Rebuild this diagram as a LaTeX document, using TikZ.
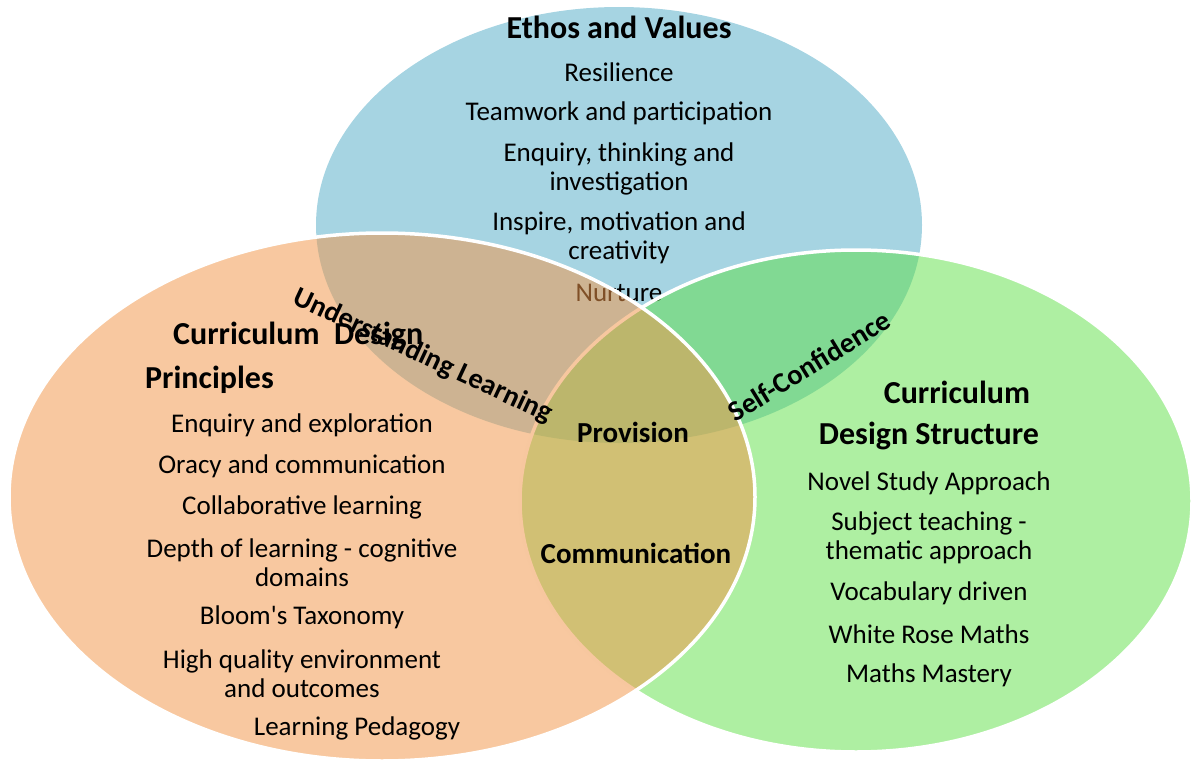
\documentclass[tikz,border=0pt]{standalone}
\usepackage{fontspec}
\setmainfont{Carlito}
\usepackage{xcolor}
\usepackage{tikz}
\usetikzlibrary{positioning}
\definecolor{ethosblue}{RGB}{166,212,226}
\definecolor{structgreen}{RGB}{93,223,69}
\definecolor{principorange}{RGB}{241,151,75}

\begin{document}
\begin{tikzpicture}[x=1pt, y=-1pt, node distance = 41pt, on grid, item/.style={font=\fontsize{27}{29}\selectfont, align=center, inner sep=0pt}, head/.style={font=\fontsize{32}{44}\selectfont\bfseries, inner sep=0pt}, core/.style={font=\fontsize{29}{34}\selectfont\bfseries, inner sep=0pt}, tilt/.style={font=\fontsize{28.5}{30}\selectfont\bfseries, inner sep=0pt}, rim/.style={draw=white, line width=3.5pt}]
\useasboundingbox (0,0) rectangle (1192,760);
\fill[ethosblue] (619,225) ellipse [x radius=303pt, y radius=218pt];
\node[head] (E1) at (619,27) {Ethos and Values};
\node[item] (E2) [below = 45pt of E1] {Resilience};
\node[item] (E3) [below = of E2] {Teamwork and participation};
\node[item] (E4) [below = 55.5pt of E3] {Enquiry, thinking and\\investigation};
\node[item] (E5) [below = 69.5pt of E4] {Inspire, motivation and\\creativity};
\node[item] (E6) [below = 55pt of E5] {Nurture};
\path[rim, fill=structgreen, fill opacity=0.5] (856,501) ellipse [x radius=336pt, y radius=251pt];
\path[rim, fill=principorange, fill opacity=0.53] (382,497) ellipse [x radius=373pt, y radius=264pt];
\node[head, anchor=west] (P1) at (173,336) {Curriculum\ \ Design};
\node[head, anchor=west] (P2) at (145,380) {Principles};
\node[item] (P3) at (302,425) {Enquiry and exploration};
\node[item] (P4) [below = of P3] {Oracy and communication};
\node[item] (P5) [below = of P4] {Collaborative learning};
\node[item] (P6) [below = 55.5pt of P5] {Depth of learning - cognitive\\domains};
\node[item] (P7) [below = 54.5pt of P6] {Bloom\textquotesingle s Taxonomy};
\node[item] (P8) [below = 56.5pt of P7] {High quality environment\\and outcomes};
\node[item] (P9) at (357,728) {Learning Pedagogy};
\node[tilt, rotate=-25] (U) at (423,356) {Understanding Learning};
\node[core] (C1) at (633,432) {Provision};
\node[core] (C2) at (636,553) {Communication};
\node[tilt, rotate=31.5] (SC) at (809,366) {Self-Confidence};
\node[head] (S1) at (957,392) {Curriculum};
\node[head] (S2) at (929,436) {Design Structure};
\node[item] (S3) at (929,483) {Novel Study Approach};
\node[item] (S4) [below = 55pt of S3] {Subject teaching -\\thematic approach};
\node[item] (S5) [below = 55pt of S4] {Vocabulary driven};
\node[item] (S6) [below = of S5] {White Rose Maths};
\node[item] (S7) [below = of S6] {Maths Mastery};
\end{tikzpicture}
\end{document}
